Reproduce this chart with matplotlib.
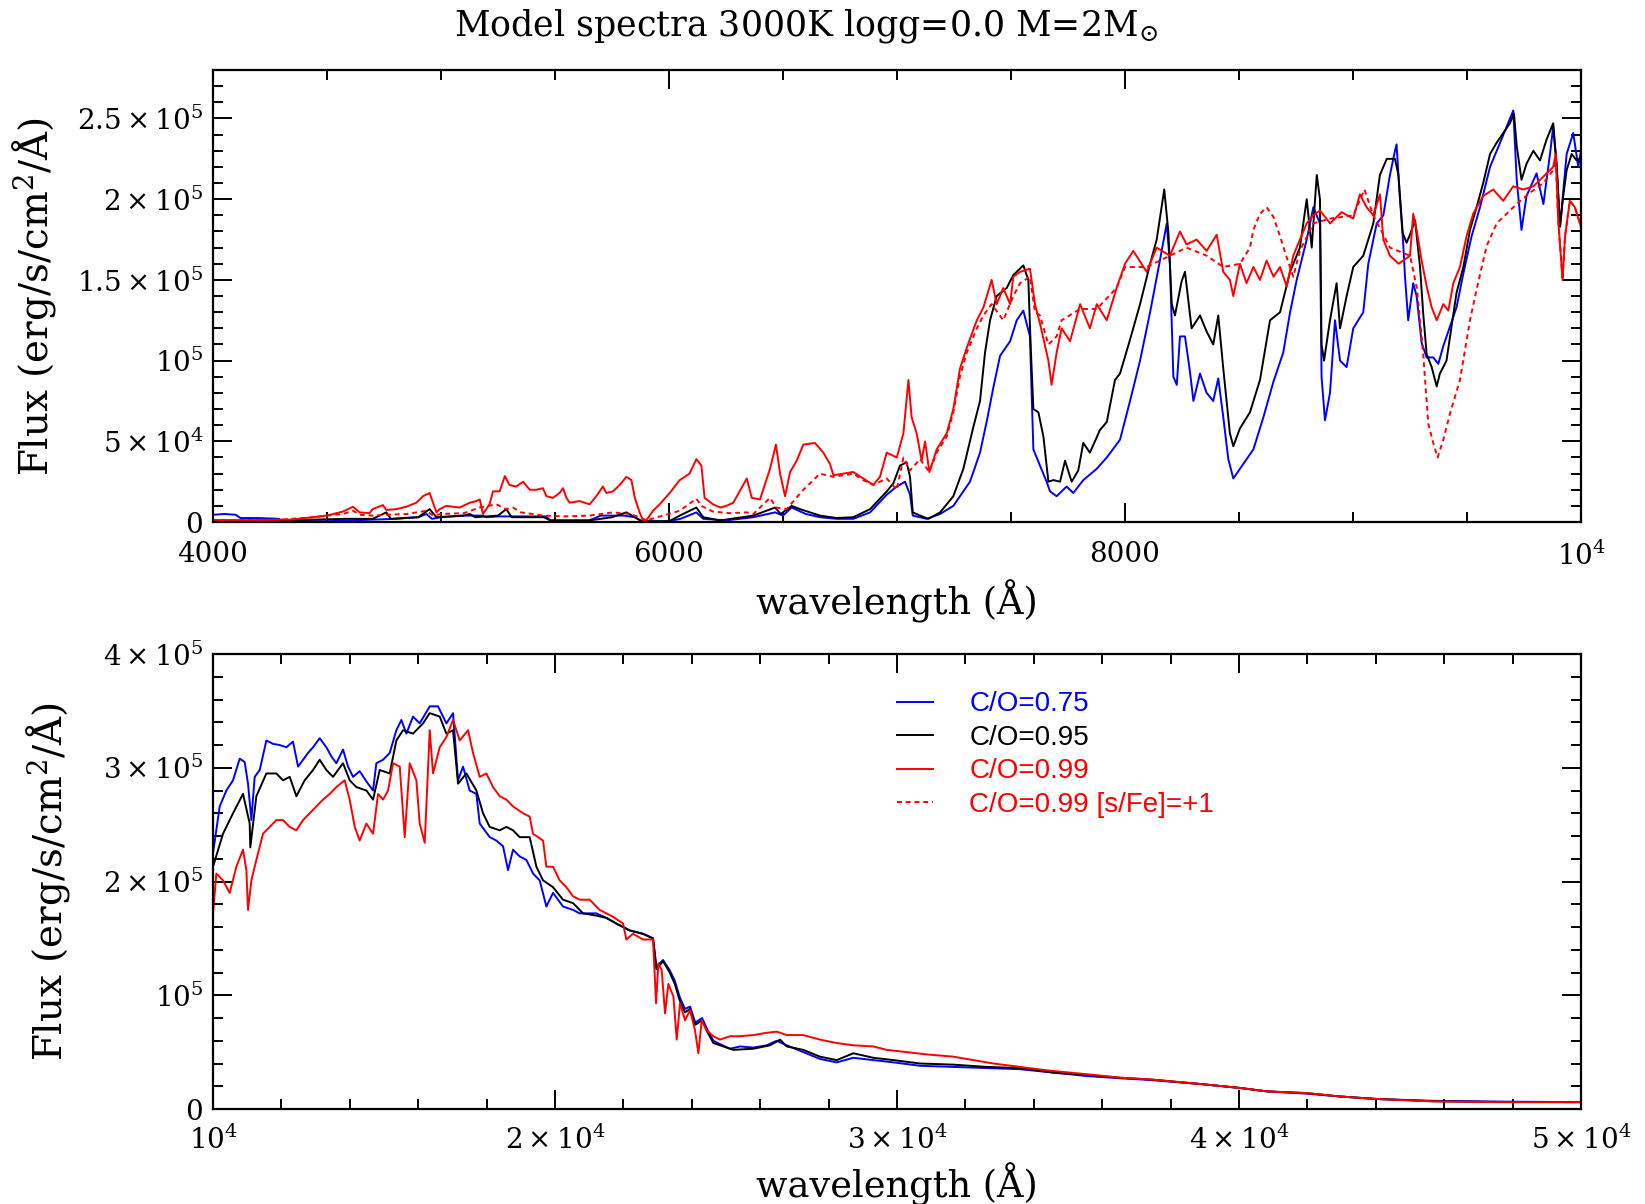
import numpy as np
import matplotlib
matplotlib.use('Agg')
import matplotlib.pyplot as plt
from matplotlib.lines import Line2D
from matplotlib.ticker import MultipleLocator

plt.rcParams['font.family'] = ['DejaVu Serif']
plt.rcParams['mathtext.fontset'] = 'dejavuserif'

FLUX_UNIT = 1e4  # values below are in units of 1e4 erg/s/cm2/A

# ---------------- top panel (4000-10000 A): [wavelength, flux/1e4] ----------------
top_blue = np.array([
    [4000, 0.45], [4050, 0.5], [4100, 0.45], [4120, 0.25], [4200, 0.25], [4290, 0.2], [4300, 0.05],
    [4400, 0.05], [4500, 0.05], [4600, 0.1], [4700, 0.15], [4800, 0.2], [4900, 0.3], [4936, 0.5],
    [4960, 0.2], [5000, 0.3], [5100, 0.4], [5180, 0.4], [5200, 0.3], [5250, 0.35], [5400, 0.35],
    [5460, 0.35], [5480, 0.1], [5650, 0.1], [5700, 0.4], [5800, 0.4], [5850, 0.3], [5880, 0.05],
    [6000, 0.05], [6050, 0.2], [6120, 0.6], [6150, 0.2], [6250, 0.1], [6370, 0.3], [6465, 0.6],
    [6500, 0.4], [6538, 0.9], [6600, 0.5], [6662, 0.3], [6735, 0.2], [6808, 0.2], [6882, 0.6],
    [6955, 1.7], [6999, 2.2], [7035, 2.5], [7057, 1.7], [7069, 0.4], [7130, 0.2], [7189, 0.5],
    [7247, 1.0], [7320, 2.5], [7364, 4.3], [7393, 6.2], [7422, 8.3], [7452, 10.3], [7496, 11.2],
    [7525, 12.5], [7554, 13.1], [7583, 11.5], [7598, 4.5], [7627, 3.5], [7656, 2.5], [7671, 1.9],
    [7700, 1.6], [7744, 2.2], [7773, 1.8], [7817, 2.6], [7876, 3.3], [7920, 4.0], [7978, 5.1],
    [8022, 7.5], [8066, 10.0], [8110, 13.0], [8153, 16.2], [8183, 18.5], [8197, 16.0], [8212, 9.0],
    [8227, 8.5], [8241, 11.5], [8263, 11.5], [8285, 9.3], [8300, 7.5], [8329, 9.2], [8358, 8.0],
    [8387, 7.5], [8409, 8.9], [8431, 6.5], [8453, 3.9], [8475, 2.7], [8504, 3.3], [8563, 4.5],
    [8607, 6.5], [8651, 8.7], [8694, 10.5], [8724, 13.0], [8753, 15.0], [8797, 17.5], [8826, 19.5],
    [8855, 18.5], [8862, 9.0], [8877, 6.3], [8899, 8.0], [8921, 12.5], [8943, 10.0], [8972, 9.6],
    [9001, 12.0], [9045, 13.0], [9067, 16.0], [9104, 18.5], [9133, 19.0], [9162, 21.5], [9184, 23.0],
    [9191, 23.4], [9206, 20.0], [9220, 17.3], [9228, 15.2], [9242, 12.5], [9264, 14.8], [9279, 14.0],
    [9301, 11.1], [9323, 10.2], [9352, 10.2], [9374, 9.8], [9396, 10.9], [9425, 12.1], [9454, 13.3],
    [9484, 15.4], [9520, 17.7], [9557, 19.5], [9601, 22.0], [9645, 23.5], [9703, 25.5], [9718, 21.2],
    [9739, 18.1], [9761, 20.2], [9805, 21.6], [9835, 19.7], [9864, 22.8], [9878, 24.5], [9893, 22.0],
    [9908, 18.3], [9937, 22.8], [9966, 24.1], [9988, 22.0], [10000, 23.0]])

top_black = np.array([
    [4000, 0.1], [4300, 0.1], [4450, 0.15], [4585, 0.2], [4700, 0.2], [4760, 0.6], [4780, 0.2],
    [4900, 0.3], [4950, 0.8], [4980, 0.3], [5100, 0.4], [5126, 0.5], [5150, 0.3], [5250, 0.4],
    [5286, 0.8], [5310, 0.3], [5450, 0.3], [5480, 0.1], [5650, 0.1], [5750, 0.3], [5813, 0.6],
    [5850, 0.3], [5880, 0.05], [6000, 0.05], [6047, 0.4], [6120, 0.9], [6150, 0.3], [6224, 0.1],
    [6370, 0.4], [6465, 0.9], [6490, 0.5], [6538, 1.0], [6575, 0.8], [6662, 0.4], [6735, 0.25],
    [6808, 0.3], [6882, 0.8], [6955, 1.9], [6984, 2.4], [7013, 3.5], [7042, 3.7], [7057, 2.8],
    [7069, 0.6], [7101, 0.4], [7138, 0.2], [7189, 0.6], [7247, 1.6], [7291, 3.3], [7335, 5.9],
    [7364, 7.5], [7386, 10.5], [7408, 12.5], [7437, 14.0], [7481, 14.5], [7510, 15.3], [7554, 15.9],
    [7576, 15.0], [7586, 11.0], [7598, 7.0], [7620, 6.8], [7642, 5.3], [7664, 2.5], [7686, 2.6],
    [7715, 2.5], [7737, 3.8], [7766, 2.5], [7795, 3.2], [7817, 4.9], [7846, 4.3], [7890, 5.7],
    [7920, 6.2], [7956, 8.8], [7978, 9.2], [8022, 11.3], [8066, 13.5], [8110, 16.0], [8139, 17.5],
    [8172, 20.6], [8190, 18.0], [8205, 13.5], [8219, 12.8], [8248, 14.9], [8263, 15.5], [8292, 12.0],
    [8329, 12.8], [8358, 11.8], [8387, 11.0], [8409, 12.8], [8431, 9.5], [8460, 5.5], [8475, 4.7],
    [8504, 5.8], [8548, 6.8], [8592, 8.8], [8636, 12.5], [8680, 13.0], [8724, 15.5], [8767, 17.0],
    [8797, 20.0], [8819, 17.0], [8841, 21.5], [8855, 20.0], [8862, 11.0], [8873, 10.0], [8899, 12.5],
    [8928, 14.8], [8943, 12.0], [8972, 14.0], [9001, 15.8], [9045, 16.5], [9089, 18.5], [9118, 21.5],
    [9148, 22.5], [9184, 22.5], [9199, 21.5], [9206, 20.2], [9218, 17.9], [9235, 17.3], [9250, 17.8],
    [9272, 18.7], [9294, 15.8], [9308, 12.9], [9323, 10.4], [9345, 9.6], [9367, 8.4], [9381, 9.2],
    [9410, 10.0], [9432, 12.1], [9454, 14.2], [9484, 15.8], [9513, 18.1], [9542, 19.5], [9571, 21.0],
    [9601, 22.8], [9630, 23.5], [9659, 24.1], [9688, 24.7], [9706, 25.3], [9718, 23.3], [9739, 21.2],
    [9761, 22.2], [9791, 23.0], [9820, 22.4], [9849, 23.7], [9878, 24.7], [9893, 22.2], [9908, 18.3],
    [9922, 20.2], [9937, 21.8], [9959, 22.8], [9981, 22.4], [10000, 22.6]])

top_red = np.array([
    [4000, 0.1], [4150, 0.1], [4300, 0.15], [4336, 0.15], [4440, 0.3], [4497, 0.4], [4570, 0.65],
    [4614, 0.95], [4643, 0.6], [4687, 0.55], [4700, 0.8], [4745, 1.05], [4760, 0.75], [4804, 0.8],
    [4848, 0.95], [4892, 1.2], [4921, 1.6], [4950, 1.8], [4965, 1.2], [4980, 0.6], [4994, 0.8],
    [5023, 1.0], [5082, 0.9], [5126, 1.2], [5155, 1.3], [5170, 1.4], [5184, 0.5], [5213, 1.1],
    [5228, 1.9], [5257, 1.9], [5280, 2.85], [5300, 2.3], [5330, 2.2], [5360, 2.5], [5389, 2.0],
    [5418, 2.0], [5447, 2.1], [5462, 1.6], [5491, 1.5], [5520, 1.8], [5535, 2.1], [5550, 1.5],
    [5564, 1.2], [5608, 1.3], [5652, 1.1], [5681, 1.6], [5710, 2.2], [5725, 1.8], [5754, 1.9],
    [5784, 2.3], [5813, 2.8], [5835, 2.6], [5850, 1.5], [5871, 0.6], [5886, 0.1], [5900, 0.1],
    [5930, 0.7], [5959, 1.1], [6003, 1.8], [6047, 2.6], [6090, 3.0], [6120, 3.9], [6142, 3.5],
    [6156, 1.5], [6193, 1.1], [6224, 0.9], [6251, 1.0], [6282, 1.2], [6341, 2.7], [6363, 1.5],
    [6399, 1.4], [6443, 3.3], [6469, 4.8], [6487, 3.0], [6509, 1.6], [6531, 3.1], [6560, 3.8],
    [6589, 4.8], [6640, 4.9], [6677, 4.3], [6706, 3.6], [6721, 2.9], [6765, 3.0], [6808, 3.1],
    [6852, 2.7], [6896, 2.3], [6925, 2.8], [6955, 4.3], [6999, 4.0], [7028, 5.5], [7050, 8.8],
    [7064, 6.5], [7086, 5.5], [7108, 3.8], [7123, 5.0], [7142, 3.1], [7174, 4.5], [7218, 5.5],
    [7247, 7.0], [7276, 9.5], [7306, 10.8], [7350, 12.5], [7379, 13.3], [7415, 15.0], [7437, 13.5],
    [7466, 14.5], [7496, 13.5], [7510, 15.2], [7540, 15.5], [7583, 15.7], [7605, 13.5], [7627, 12.3],
    [7664, 10.0], [7678, 8.5], [7700, 10.5], [7722, 12.0], [7759, 11.2], [7803, 13.5], [7846, 12.0],
    [7876, 13.5], [7920, 12.5], [7963, 14.5], [8000, 16.0], [8036, 16.8], [8095, 15.5], [8139, 17.0],
    [8197, 16.5], [8241, 18.0], [8270, 17.2], [8314, 17.5], [8358, 16.8], [8402, 17.8], [8431, 15.5],
    [8460, 15.0], [8475, 14.0], [8504, 16.0], [8533, 14.8], [8563, 15.8], [8592, 15.0], [8621, 16.2],
    [8651, 15.2], [8680, 15.8], [8709, 14.6], [8738, 16.5], [8767, 17.5], [8797, 18.5], [8826, 19.0],
    [8855, 19.3], [8900, 18.5], [8950, 19.2], [9001, 18.8], [9030, 20.3], [9060, 19.5], [9089, 19.0],
    [9118, 20.3], [9133, 17.5], [9162, 16.5], [9200, 16.0], [9250, 16.5], [9264, 19.1], [9279, 18.1],
    [9301, 16.2], [9323, 14.6], [9345, 13.3], [9367, 12.5], [9396, 13.5], [9418, 13.1], [9440, 14.8],
    [9469, 15.8], [9498, 17.7], [9527, 19.1], [9571, 20.2], [9615, 20.6], [9659, 19.9], [9703, 20.8],
    [9747, 20.6], [9791, 20.8], [9835, 21.4], [9878, 22.0], [9889, 22.8], [9900, 18.7], [9911, 16.6],
    [9919, 15.0], [9930, 17.7], [9951, 19.9], [9973, 19.5], [10000, 18.3]])

top_red_sfe = np.array([
    [4000, 0.1], [4300, 0.15], [4440, 0.3], [4570, 0.5], [4614, 0.7], [4643, 0.45], [4700, 0.4],
    [4760, 0.45], [4850, 0.5], [4936, 0.7], [4965, 0.4], [5000, 0.5], [5100, 0.55], [5170, 0.9],
    [5243, 1.1], [5286, 0.8], [5316, 0.9], [5350, 0.6], [5450, 0.4], [5550, 0.35], [5650, 0.4],
    [5754, 0.6], [5828, 0.5], [5871, 0.3], [5900, 0.1], [5974, 0.4], [6047, 0.7], [6120, 1.45],
    [6142, 1.0], [6193, 0.65], [6266, 0.55], [6341, 0.6], [6370, 0.5], [6443, 1.5], [6470, 0.9],
    [6516, 0.8], [6589, 2.0], [6662, 3.0], [6721, 2.8], [6765, 2.9], [6808, 3.0], [6852, 2.6],
    [6896, 2.3], [6955, 2.7], [6999, 2.0], [7028, 4.0], [7057, 3.2], [7101, 3.9], [7142, 3.1],
    [7174, 4.3], [7218, 5.3], [7247, 6.8], [7276, 9.0], [7306, 10.5], [7350, 12.0], [7379, 12.8],
    [7415, 13.5], [7466, 12.5], [7510, 14.0], [7540, 14.8], [7583, 15.2], [7605, 13.0], [7627, 12.8],
    [7664, 11.0], [7700, 11.5], [7722, 12.5], [7803, 13.2], [7876, 13.2], [7963, 14.5], [8000, 15.8],
    [8095, 15.8], [8197, 16.5], [8270, 17.0], [8358, 16.5], [8431, 15.8], [8504, 16.0], [8548, 17.0],
    [8563, 18.1], [8592, 19.1], [8621, 19.5], [8651, 18.9], [8680, 17.7], [8709, 16.4], [8738, 15.2],
    [8767, 16.8], [8826, 18.5], [8900, 18.8], [9001, 19.0], [9050, 20.6], [9089, 19.0], [9162, 17.0],
    [9250, 16.5], [9280, 14.5], [9308, 10.4], [9330, 6.1], [9352, 4.9], [9371, 4.0], [9396, 5.1],
    [9425, 6.7], [9469, 8.8], [9513, 12.5], [9542, 14.4], [9586, 17.1], [9630, 18.5], [9674, 19.1],
    [9718, 19.7], [9776, 20.4], [9835, 21.0], [9878, 21.8], [9889, 22.5], [9900, 18.7], [9911, 16.6],
    [9919, 15.0], [9930, 17.7], [9951, 19.9], [9973, 19.5], [10000, 18.3]])

# ---------------- bottom panel (1e4-5e4 A): [wavelength, flux/1e4] ----------------
bot_blue = np.array([
    [10000, 22.5], [10195, 26.6], [10390, 28.0], [10585, 28.9], [10780, 30.8], [10926, 30.5],
    [11023, 28.6], [11121, 25.4], [11218, 29.2], [11365, 29.8], [11560, 32.4], [11755, 32.1],
    [11949, 32.0], [12144, 31.8], [12339, 32.3], [12486, 30.1], [12632, 30.7], [12778, 31.3],
    [12924, 31.8], [13119, 32.6], [13314, 31.8], [13460, 31.0], [13606, 30.4], [13801, 31.6],
    [13948, 30.1], [14094, 29.2], [14289, 29.7], [14484, 28.8], [14679, 28.0], [14776, 30.4],
    [14971, 30.7], [15166, 31.3], [15361, 33.3], [15507, 34.2], [15653, 33.0], [15848, 34.5],
    [16043, 33.9], [16336, 35.4], [16579, 35.4], [16823, 33.9], [17018, 34.8], [17165, 28.9],
    [17310, 30.1], [17505, 28.0], [17700, 27.7], [17798, 25.1], [18090, 23.9], [18285, 23.6],
    [18480, 23.1], [18626, 21.0], [18772, 22.8], [18967, 22.2], [19162, 21.9], [19357, 20.7],
    [19552, 20.1], [19747, 17.8], [19942, 19.0], [20234, 17.8], [20527, 17.5], [20722, 17.2],
    [21210, 17.2], [21502, 16.8], [21794, 16.3], [22184, 15.7], [22574, 15.4], [22866, 15.0],
    [22964, 12.5], [23158, 13.1], [23353, 12.2], [23500, 11.3], [23650, 9.8], [23800, 8.8],
    [23950, 9.0], [24100, 7.6], [24300, 8.0], [24450, 7.0], [24630, 6.0], [24825, 5.7],
    [25117, 5.3], [25410, 5.5], [25800, 5.4], [26190, 5.6], [26480, 6.0], [26775, 5.6],
    [27262, 5.0], [27749, 4.4], [28236, 4.1], [28724, 4.5], [29309, 4.3], [29894, 4.1],
    [30674, 3.8], [31648, 3.7], [32623, 3.6], [33598, 3.5], [34573, 3.2], [35546, 2.9],
    [36521, 2.7], [37400, 2.55], [38860, 2.2], [40030, 1.85], [40810, 1.55], [41979, 1.35],
    [42954, 1.1], [44026, 0.88], [45683, 0.72], [47632, 0.65], [50000, 0.6]])

bot_black = np.array([
    [10000, 21.3], [10292, 24.2], [10585, 26.0], [10877, 27.7], [11072, 25.1], [11090, 23.0],
    [11267, 27.5], [11560, 29.5], [11852, 29.5], [12047, 28.9], [12242, 29.2], [12437, 27.5],
    [12681, 28.9], [12924, 29.8], [13119, 30.7], [13314, 29.8], [13509, 29.2], [13801, 30.4],
    [13996, 28.9], [14191, 28.3], [14484, 28.0], [14679, 27.2], [14874, 29.8], [15166, 29.5],
    [15361, 32.4], [15556, 33.3], [15848, 33.0], [16141, 33.9], [16336, 34.8], [16628, 34.5],
    [16823, 33.0], [17018, 33.3], [17165, 28.6], [17408, 29.5], [17700, 28.0], [17895, 26.0],
    [18090, 24.8], [18382, 24.5], [18577, 24.8], [18772, 24.5], [18967, 23.9], [19260, 23.9],
    [19455, 21.3], [19650, 20.1], [19942, 19.5], [20234, 18.4], [20527, 18.1], [20820, 17.2],
    [21210, 17.0], [21502, 16.8], [21794, 16.3], [22184, 15.7], [22574, 15.4], [22866, 15.0],
    [22964, 12.3], [23158, 13.0], [23353, 12.0], [23500, 11.0], [23650, 9.5], [23800, 8.5],
    [23950, 8.8], [24100, 7.4], [24300, 7.8], [24450, 6.8], [24630, 5.8], [24825, 5.6],
    [25215, 5.2], [25800, 5.3], [26287, 5.6], [26580, 6.1], [26775, 5.5], [27262, 5.2],
    [27749, 4.6], [28236, 4.3], [28724, 4.9], [29309, 4.5], [29894, 4.3], [30674, 4.0],
    [31648, 3.9], [32623, 3.7], [33598, 3.6], [34573, 3.2], [35546, 3.0], [36521, 2.75],
    [37400, 2.6], [38860, 2.2], [40030, 1.85], [40810, 1.55], [41979, 1.4], [42954, 1.1],
    [44026, 0.88], [45683, 0.68], [47632, 0.62], [50000, 0.6]])

bot_red = np.array([
    [10000, 17.2], [10097, 20.7], [10292, 20.1], [10487, 19.0], [10682, 21.3], [10877, 22.8],
    [10975, 21.0], [11023, 17.5], [11121, 20.1], [11267, 21.9], [11462, 24.2], [11657, 24.8],
    [11852, 25.4], [12047, 25.4], [12242, 24.8], [12437, 24.5], [12632, 25.4], [12827, 26.0],
    [13022, 26.6], [13217, 27.2], [13411, 27.7], [13606, 28.3], [13850, 28.9], [13996, 27.2],
    [14143, 24.8], [14289, 23.6], [14484, 25.1], [14679, 24.2], [14826, 27.7], [14971, 27.2],
    [15118, 28.0], [15264, 30.4], [15459, 30.1], [15605, 23.9], [15751, 30.4], [15946, 28.9],
    [16043, 25.1], [16190, 23.4], [16336, 33.3], [16433, 29.5], [16628, 31.8], [16823, 32.7],
    [17018, 34.2], [17213, 32.4], [17457, 33.3], [17603, 31.3], [17798, 29.2], [17993, 29.5],
    [18188, 28.3], [18382, 27.5], [18577, 27.2], [18772, 26.6], [19065, 26.0], [19260, 25.7],
    [19357, 24.2], [19650, 23.6], [19747, 21.3], [19942, 21.3], [20137, 20.1], [20332, 19.5],
    [20527, 18.7], [20722, 18.4], [21015, 18.4], [21307, 17.5], [21697, 16.9], [21989, 16.3],
    [22086, 14.9], [22281, 15.4], [22574, 14.9], [22866, 14.9], [22954, 9.3], [23022, 12.8],
    [23120, 12.2], [23217, 8.4], [23314, 11.0], [23461, 9.9], [23558, 6.1], [23655, 9.3],
    [23802, 7.8], [23948, 8.7], [24094, 6.9], [24192, 4.9], [24289, 7.8], [24435, 6.9],
    [24630, 6.4], [24825, 6.1], [25117, 6.4], [25410, 6.4], [25800, 6.5], [26190, 6.7],
    [26482, 6.8], [26775, 6.5], [27262, 6.5], [27749, 6.1], [28236, 5.8], [28724, 5.6],
    [29309, 5.5], [29699, 5.2], [30284, 5.0], [30869, 4.8], [31648, 4.6], [32233, 4.3],
    [32818, 4.0], [33598, 3.7], [34378, 3.4], [35059, 3.2], [35741, 3.0], [36521, 2.75],
    [37398, 2.6], [38860, 2.2], [40030, 1.85], [40810, 1.55], [41979, 1.4], [42954, 1.1],
    [44026, 0.88], [45683, 0.67], [47632, 0.6], [50000, 0.6]])

legend_labels = ['C/O=0.75', 'C/O=0.95', 'C/O=0.99', 'C/O=0.99 [s/Fe]=+1']
series_colors = ['#0000ff', '#000000', '#ff0000', '#ff0000']

top_xticks = [4000, 6000, 8000, 10000]
top_xlabels = ['4000', '6000', '8000', r'$10^4$']
top_yticks = [0, 5e4, 1e5, 1.5e5, 2e5, 2.5e5]
top_ylabels = ['0', r'$5\times10^4$', r'$10^5$', r'$1.5\times10^5$', r'$2\times10^5$', r'$2.5\times10^5$']
bot_xticks = [1e4, 2e4, 3e4, 4e4, 5e4]
bot_xlabels = [r'$10^4$', r'$2\times10^4$', r'$3\times10^4$', r'$4\times10^4$', r'$5\times10^4$']
bot_yticks = [0, 1e5, 2e5, 3e5, 4e5]
bot_ylabels = ['0', r'$10^5$', r'$2\times10^5$', r'$3\times10^5$', r'$4\times10^5$']

title_text = r'Model spectra 3000K logg=0.0 M=2M$_{\odot}$'
xlabel_text = 'wavelength (Å)'
ylabel_text = r'Flux (erg/s/cm$^2$/Å)'

LW = 1.4
DOT = (0, (2.5, 2.0))

fig = plt.figure(figsize=(16.45, 12.04), dpi=100)
ax1 = fig.add_axes([0.1295, 0.5664, 0.8316, 0.3754])
ax2 = fig.add_axes([0.1295, 0.0789, 0.8316, 0.3779])


def style(ax, xpad):
    ax.tick_params(which='both', direction='in', top=True, right=True, width=1.4)
    ax.tick_params(which='major', length=13.5)
    ax.tick_params(which='minor', length=7)
    ax.tick_params(axis='x', which='major', pad=xpad, labelsize=20)
    ax.tick_params(axis='y', which='major', pad=7, labelsize=20)
    for s in ax.spines.values():
        s.set_linewidth(1.6)


# top panel
ax1.plot(top_blue[:, 0], top_blue[:, 1] * FLUX_UNIT, color=series_colors[0], lw=LW)
ax1.plot(top_black[:, 0], top_black[:, 1] * FLUX_UNIT, color=series_colors[1], lw=LW)
ax1.plot(top_red_sfe[:, 0], top_red_sfe[:, 1] * FLUX_UNIT, color=series_colors[3], lw=LW, ls=DOT)
ax1.plot(top_red[:, 0], top_red[:, 1] * FLUX_UNIT, color=series_colors[2], lw=LW)
ax1.set_xlim(4000, 10000)
ax1.set_ylim(0, 2.8e5)
ax1.set_xticks(top_xticks, top_xlabels)
ax1.set_yticks(top_yticks, top_ylabels)
ax1.xaxis.set_minor_locator(MultipleLocator(500))
ax1.yaxis.set_minor_locator(MultipleLocator(1e4))
style(ax1, 14)
ax1.set_xlabel(xlabel_text, fontsize=26.5)
ax1.set_ylabel(ylabel_text, fontsize=28)
ax1.xaxis.set_label_coords(0.5, -0.128)
ax1.yaxis.set_label_coords(-0.113, 0.5)

# bottom panel
hb, = ax2.plot(bot_blue[:, 0], bot_blue[:, 1] * FLUX_UNIT, color=series_colors[0], lw=LW)
hk, = ax2.plot(bot_black[:, 0], bot_black[:, 1] * FLUX_UNIT, color=series_colors[1], lw=LW)
hr, = ax2.plot(bot_red[:, 0], bot_red[:, 1] * FLUX_UNIT, color=series_colors[2], lw=LW)
ax2.set_xlim(1e4, 5e4)
ax2.set_ylim(0, 4e5)
ax2.set_xticks(bot_xticks, bot_xlabels)
ax2.set_yticks(bot_yticks, bot_ylabels)
ax2.xaxis.set_minor_locator(MultipleLocator(2000))
ax2.yaxis.set_minor_locator(MultipleLocator(2e4))
style(ax2, 12)
ax2.set_xlabel(xlabel_text, fontsize=26.5)
ax2.set_ylabel(ylabel_text, fontsize=28)
ax2.xaxis.set_label_coords(0.5, -0.118)
ax2.yaxis.set_label_coords(-0.103, 0.5)

hd = Line2D([], [], color=series_colors[3], lw=LW, ls=DOT)
leg = ax2.legend([hb, hk, hr, hd], legend_labels, loc='upper left', bbox_to_anchor=(0.5, 0.918),
                 frameon=False, borderpad=0, borderaxespad=0, handlelength=1.3, handletextpad=1.3,
                 labelspacing=0.27, prop={'family': 'Liberation Sans', 'size': 20},
                 labelcolor=series_colors)

fig.text(0.49, 1 - 26 / 1204, title_text, ha='center', va='center', fontsize=25)

fig.savefig('out.png', dpi=100)
